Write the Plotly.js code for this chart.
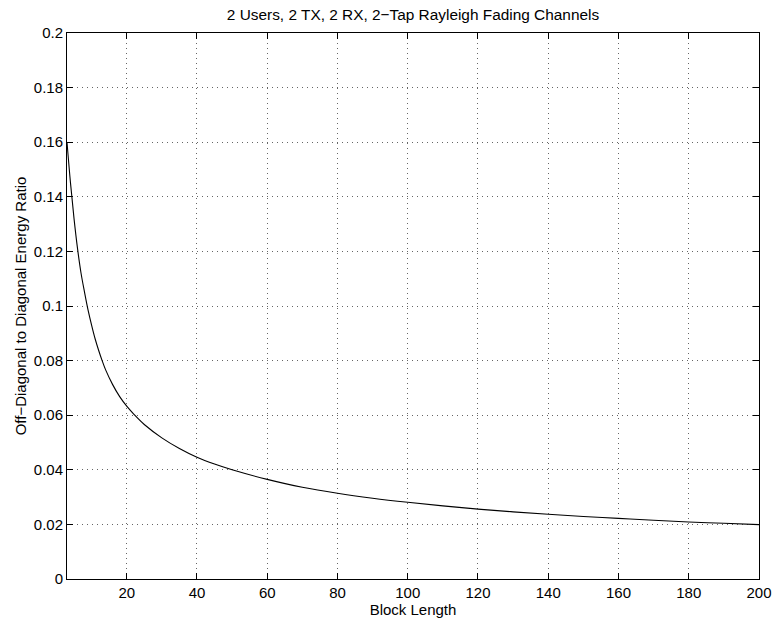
<!DOCTYPE html>
<html>
<head>
<meta charset="utf-8">
<script src="https://cdn.plot.ly/plotly-3.0.1.min.js"></script>
<style>html,body{margin:0;padding:0;background:#fff;}#chart{width:774px;height:626px;}</style>
</head>
<body>
<div id="chart"></div>
<script>
const blockLength = [3,4,5,6,7,8,9,10,11,12,13,14,16,18,20,22,25,30,35,40,45,50,60,70,80,90,100,110,120,130,140,150,160,170,180,190,200];
const energyRatio = [0.160,0.145,0.132,0.121,0.112,0.105,0.0985,0.0930,0.0880,0.0838,0.0800,0.0766,0.0712,0.0668,0.0633,0.0604,0.0566,0.0517,0.0478,0.0446,0.0421,0.0400,0.0365,0.0336,0.0314,0.0296,0.0281,0.0268,0.0256,0.0246,0.0237,0.0229,0.0222,0.0215,0.0209,0.0204,0.0199];
const xTicks = [20,40,60,80,100,120,140,160,180,200];
const yTicks = [0,0.02,0.04,0.06,0.08,0.1,0.12,0.14,0.16,0.18,0.2];

const font = {family: '"Liberation Sans", Arial, Helvetica, sans-serif', size: 15, color: '#000'};

const trace = {
  x: blockLength, y: energyRatio, type: 'scatter', mode: 'lines',
  line: {color: '#000', width: 1.1, shape: 'spline', smoothing: 1},
  hoverinfo: 'skip'
};

const axisCommon = {
  showline: true, linecolor: '#000', linewidth: 1, mirror: 'ticks',
  ticks: 'inside', ticklen: 6, tickcolor: '#000', tickwidth: 1,
  showgrid: true, gridcolor: '#666', gridwidth: 1, griddash: '1px,4px',
  zeroline: false, tickfont: font
};

const layout = {
  width: 774, height: 626,
  margin: {l: 67, r: 15, t: 33, b: 47},
  paper_bgcolor: '#fff', plot_bgcolor: '#fff',
  font: font,
  showlegend: false,
  title: {text: '2 Users, 2 TX, 2 RX, 2\u2212Tap Rayleigh Fading Channels', font: Object.assign({}, font, {size: 15.4}),
          x: 0.5, xref: 'paper', xanchor: 'center', y: 0.976, yref: 'container', yanchor: 'middle'},
  xaxis: Object.assign({}, axisCommon, {
    range: [3, 200], tickvals: xTicks, ticktext: xTicks.map(String),
    title: {text: 'Block Length', font: font, standoff: 4}
  }),
  yaxis: Object.assign({}, axisCommon, {
    range: [0, 0.2], tickvals: yTicks, ticktext: yTicks.map(String),
    title: {text: 'Off\u2212Diagonal to Diagonal Energy Ratio', font: font, standoff: 3}
  })
};

Plotly.newPlot('chart', [trace], layout, {staticPlot: true, displayModeBar: false});
</script>
</body>
</html>
